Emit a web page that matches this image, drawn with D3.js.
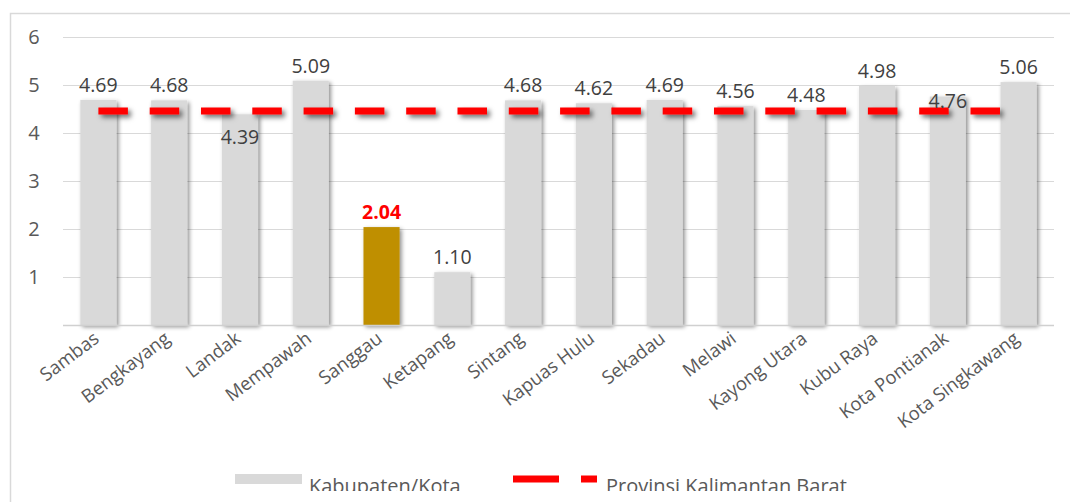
<!DOCTYPE html>
<html lang="en">
<head>
<meta charset="utf-8">
<script src="https://d3js.org/d3.v7.min.js"></script>
<style>
  body { margin: 0; background: #fff; }
  text { font-family: "Open Sans", sans-serif; }
</style>
</head>
<body>
<script>
// data
var regions = ["Sambas", "Bengkayang", "Landak", "Mempawah", "Sanggau", "Ketapang", "Sintang",
  "Kapuas Hulu", "Sekadau", "Melawi", "Kayong Utara", "Kubu Raya", "Kota Pontianak", "Kota Singkawang"];
var values = [4.69, 4.68, 4.39, 5.09, 2.04, 1.10, 4.68, 4.62, 4.69, 4.56, 4.48, 4.98, 4.76, 5.06];
var provinceValue = 4.46;
var yTicks = [1, 2, 3, 4, 5, 6];
var highlight = "Sanggau";
var seriesNames = ["Kabupaten/Kota", "Provinsi Kalimantan Barat"];

var W = 1070, H = 502;
var svg = d3.select("body").append("svg").attr("width", W).attr("height", H);

var defs = svg.append("defs");
var sh = defs.append("filter").attr("id", "shadow")
  .attr("x", "-30%").attr("y", "-30%").attr("width", "160%").attr("height", "160%");
sh.append("feDropShadow").attr("dx", 2).attr("dy", 2).attr("stdDeviation", 2.2)
  .attr("flood-color", "#000").attr("flood-opacity", 0.45);
// the dashed line has a zero-height bbox, so its filter region is set in user space
var sh2 = defs.append("filter").attr("id", "lineshadow").attr("filterUnits", "userSpaceOnUse")
  .attr("x", 0).attr("y", 0).attr("width", W).attr("height", H);
sh2.append("feDropShadow").attr("dx", 3).attr("dy", 3).attr("stdDeviation", 2.5)
  .attr("flood-color", "#000").attr("flood-opacity", 0.55);
defs.append("clipPath").attr("id", "frameclip").append("rect")
  .attr("x", 0).attr("y", 0).attr("width", W).attr("height", 491);

// chart frame
svg.append("path").attr("d", "M10.5,502 V13.5 H1070")
  .attr("fill", "none").attr("stroke", "#d9d9d9").attr("stroke-width", 1.5);

var x = d3.scaleBand().domain(regions).range([63, 1054]).paddingInner(0.49).paddingOuter(0.245);
var y = d3.scaleLinear().domain([0, 6]).range([325, 37]);

// gridlines
svg.append("g").selectAll("line").data(yTicks).join("line")
  .attr("x1", 63).attr("x2", 1054)
  .attr("y1", function(d) { return Math.round(y(d)) + 0.5; })
  .attr("y2", function(d) { return Math.round(y(d)) + 0.5; })
  .attr("stroke", "#d9d9d9").attr("stroke-width", 1.2);

// y axis labels
svg.append("g").selectAll("text").data(yTicks).join("text")
  .attr("x", 34).attr("y", function(d) { return y(d); })
  .attr("dy", "0.36em").attr("text-anchor", "middle")
  .attr("font-size", 20).attr("fill", "#595959")
  .text(function(d) { return d; });

// bars
svg.append("g").selectAll("rect").data(regions).join("rect")
  .attr("x", function(d) { return x(d); })
  .attr("y", function(d, i) { return y(values[i]); })
  .attr("width", x.bandwidth())
  .attr("height", function(d, i) { return y(0) - y(values[i]); })
  .attr("fill", function(d) { return d === highlight ? "#bf8f00" : "#d9d9d9"; })
  .attr("filter", "url(#shadow)");

// x axis line
svg.append("line").attr("x1", 63).attr("x2", 1054).attr("y1", 325.5).attr("y2", 325.5)
  .attr("stroke", "#d0d0d0").attr("stroke-width", 1.5);

// province dashed line
svg.append("line")
  .attr("x1", x(regions[0]) + x.bandwidth() / 2)
  .attr("x2", x(regions[regions.length - 1]) + x.bandwidth() / 2)
  .attr("y1", y(provinceValue)).attr("y2", y(provinceValue))
  .attr("stroke", "#ff0000").attr("stroke-width", 7)
  .attr("stroke-dasharray", "29.5,21.8")
  .attr("filter", "url(#lineshadow)");

// value labels (a couple sit inside the bar, as in the source)
var labelShift = { "Landak": 38, "Kota Pontianak": 19 };
svg.append("g").selectAll("text").data(regions).join("text")
  .attr("x", function(d) { return x(d) + x.bandwidth() / 2; })
  .attr("y", function(d, i) { return y(values[i]) - 8 + (labelShift[d] || 0); })
  .attr("text-anchor", "middle")
  .attr("font-size", 19.5)
  .attr("font-weight", function(d) { return d === highlight ? "bold" : "normal"; })
  .attr("fill", function(d) { return d === highlight ? "#ff0000" : "#404040"; })
  .text(function(d, i) { return values[i].toFixed(2); });

// category labels
svg.append("g").selectAll("text").data(regions).join("text")
  .attr("transform", function(d) {
    return "translate(" + (x(d) + x.bandwidth() / 2 + 2) + ",341) rotate(-37)";
  })
  .attr("text-anchor", "end")
  .attr("font-size", 18.5).attr("fill", "#595959")
  .text(function(d) { return d; });

// legend
var lg = svg.append("g").attr("clip-path", "url(#frameclip)");
lg.append("rect").attr("x", 235).attr("y", 474).attr("width", 67).attr("height", 10)
  .attr("fill", "#d9d9d9");
lg.append("text").attr("x", 309).attr("y", 493).attr("font-size", 20).attr("fill", "#595959")
  .text(seriesNames[0]);
lg.append("line").attr("x1", 513).attr("x2", 597).attr("y1", 479).attr("y2", 479)
  .attr("stroke", "#ff0000").attr("stroke-width", 7).attr("stroke-dasharray", "46,22");
lg.append("text").attr("x", 606).attr("y", 493).attr("font-size", 20).attr("fill", "#595959")
  .text(seriesNames[1]);
</script>
</body>
</html>
